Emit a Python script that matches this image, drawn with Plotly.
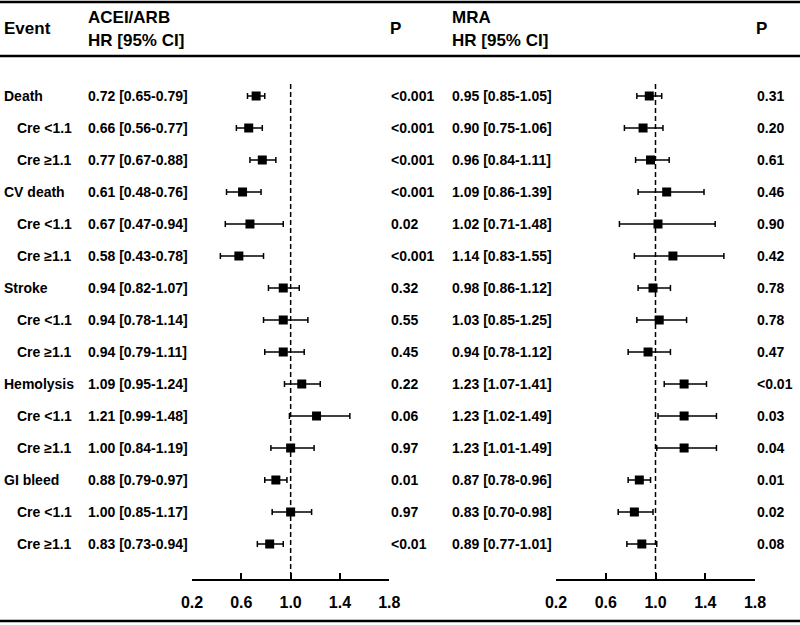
import plotly.graph_objects as go

events = ["Death", "Cre <1.1", "Cre \u22651.1", "CV death", "Cre <1.1", "Cre \u22651.1",
          "Stroke", "Cre <1.1", "Cre \u22651.1", "Hemolysis", "Cre <1.1", "Cre \u22651.1",
          "GI bleed", "Cre <1.1", "Cre \u22651.1"]
is_sub = [False, True, True] * 5

acei_hr = [0.72, 0.66, 0.77, 0.61, 0.67, 0.58, 0.94, 0.94, 0.94, 1.09, 1.21, 1.00, 0.88, 1.00, 0.83]
acei_lo = [0.65, 0.56, 0.67, 0.48, 0.47, 0.43, 0.82, 0.78, 0.79, 0.95, 0.99, 0.84, 0.79, 0.85, 0.73]
acei_hi = [0.79, 0.77, 0.88, 0.76, 0.94, 0.78, 1.07, 1.14, 1.11, 1.24, 1.48, 1.19, 0.97, 1.17, 0.94]
acei_p = ["<0.001", "<0.001", "<0.001", "<0.001", "0.02", "<0.001", "0.32", "0.55", "0.45",
          "0.22", "0.06", "0.97", "0.01", "0.97", "<0.01"]

mra_hr = [0.95, 0.90, 0.96, 1.09, 1.02, 1.14, 0.98, 1.03, 0.94, 1.23, 1.23, 1.23, 0.87, 0.83, 0.89]
mra_lo = [0.85, 0.75, 0.84, 0.86, 0.71, 0.83, 0.86, 0.85, 0.78, 1.07, 1.02, 1.01, 0.78, 0.70, 0.77]
mra_hi = [1.05, 1.06, 1.11, 1.39, 1.48, 1.55, 1.12, 1.25, 1.12, 1.41, 1.49, 1.49, 0.96, 0.98, 1.01]
mra_p = ["0.31", "0.20", "0.61", "0.46", "0.90", "0.42", "0.78", "0.78", "0.47",
         "<0.01", "0.03", "0.04", "0.01", "0.02", "0.08"]

tick_vals = [0.2, 0.6, 1.0, 1.4, 1.8]
tick_text = ["0.2", "0.6", "1.0", "1.4", "1.8"]

W, H = 800, 625
ROW0, ROWH = 96, 32
FONT = "Liberation Sans, Arial, sans-serif"


def px_x(p):
    return p / W


def px_y(p):
    return 1 - p / H


def row_y(i):
    return -i


Y_RANGE = [-(H - ROW0) / ROWH, ROW0 / ROWH]

fig = go.Figure()


def fmt_ci(h, lo, hi):
    return f"{h:.2f} [{lo:.2f}-{hi:.2f}]"


ys = [row_y(i) for i in range(len(events))]

for xa, hr, lo, hi in [("x", acei_hr, acei_lo, acei_hi), ("x2", mra_hr, mra_lo, mra_hi)]:
    fig.add_trace(go.Scatter(
        x=hr, y=ys, xaxis=xa, yaxis="y", mode="markers",
        marker=dict(symbol="square", size=9, color="black"),
        error_x=dict(type="data", symmetric=False,
                     array=[h2 - h1 for h1, h2 in zip(hr, hi)],
                     arrayminus=[h1 - l for h1, l in zip(hr, lo)],
                     color="black", thickness=1.5, width=3),
        showlegend=False, hoverinfo="skip", cliponaxis=False,
    ))
    # reference line at HR = 1
    fig.add_shape(type="line", xref=xa, yref="y", x0=1, x1=1,
                  y0=(ROW0 - 84) / ROWH, y1=-(573 - ROW0) / ROWH,
                  line=dict(color="black", width=1.5, dash="5px,3px"), layer="below")

body_font = dict(family=FONT, size=14, color="black", weight="bold")
head_font = dict(family=FONT, size=17, color="black", weight="bold")


def ann(text, xpx, y, font, yref="y"):
    fig.add_annotation(text=text, x=px_x(xpx), y=y, xref="paper", yref=yref,
                       xanchor="left", yanchor="middle", showarrow=False, font=font,
                       borderpad=0)


for i, ev in enumerate(events):
    y = row_y(i)
    ann(ev, 16 if is_sub[i] else 3, y, body_font)
    ann(fmt_ci(acei_hr[i], acei_lo[i], acei_hi[i]), 87, y, body_font)
    ann(acei_p[i], 390, y, body_font)
    ann(fmt_ci(mra_hr[i], mra_lo[i], mra_hi[i]), 451, y, body_font)
    ann(mra_p[i], 756, y, body_font)

ann("Event", 3, px_y(29), head_font, yref="paper")
ann("ACEI/ARB", 87, px_y(17), head_font, yref="paper")
ann("HR [95% CI]", 87, px_y(40), head_font, yref="paper")
ann("P", 389, px_y(29), head_font, yref="paper")
ann("MRA", 451, px_y(17), head_font, yref="paper")
ann("HR [95% CI]", 451, px_y(40), head_font, yref="paper")
ann("P", 755, px_y(29), head_font, yref="paper")

for ypx in [2, 56, 621]:
    fig.add_shape(type="line", xref="paper", yref="paper", x0=0, x1=1,
                  y0=px_y(ypx), y1=px_y(ypx), line=dict(color="black", width=2.5))

axis_common = dict(range=[0.2, 1.8], tickvals=tick_vals, ticktext=tick_text,
                   showline=True, linecolor="black", linewidth=1.5,
                   ticks="inside", ticklen=6, tickwidth=1.5, tickcolor="black",
                   showgrid=False, zeroline=False, anchor="free", position=px_y(580),
                   tickfont=dict(family=FONT, size=16, color="black", weight="bold"),
                   ticklabelstandoff=8, fixedrange=True, automargin=False)

fig.update_layout(
    width=W, height=H, margin=dict(l=0, r=0, t=0, b=0, pad=0, autoexpand=False),
    paper_bgcolor="white", plot_bgcolor="rgba(0,0,0,0)",
    xaxis=dict(domain=[px_x(192), px_x(389.3)], **axis_common),
    xaxis2=dict(domain=[px_x(556), px_x(755)], **axis_common),
    yaxis=dict(domain=[0, 1], range=Y_RANGE, visible=False, fixedrange=True, automargin=False),
    showlegend=False,
)

fig.write_html("out.html", config={"displayModeBar": False},
               post_script="document.body.style.margin='0';")
